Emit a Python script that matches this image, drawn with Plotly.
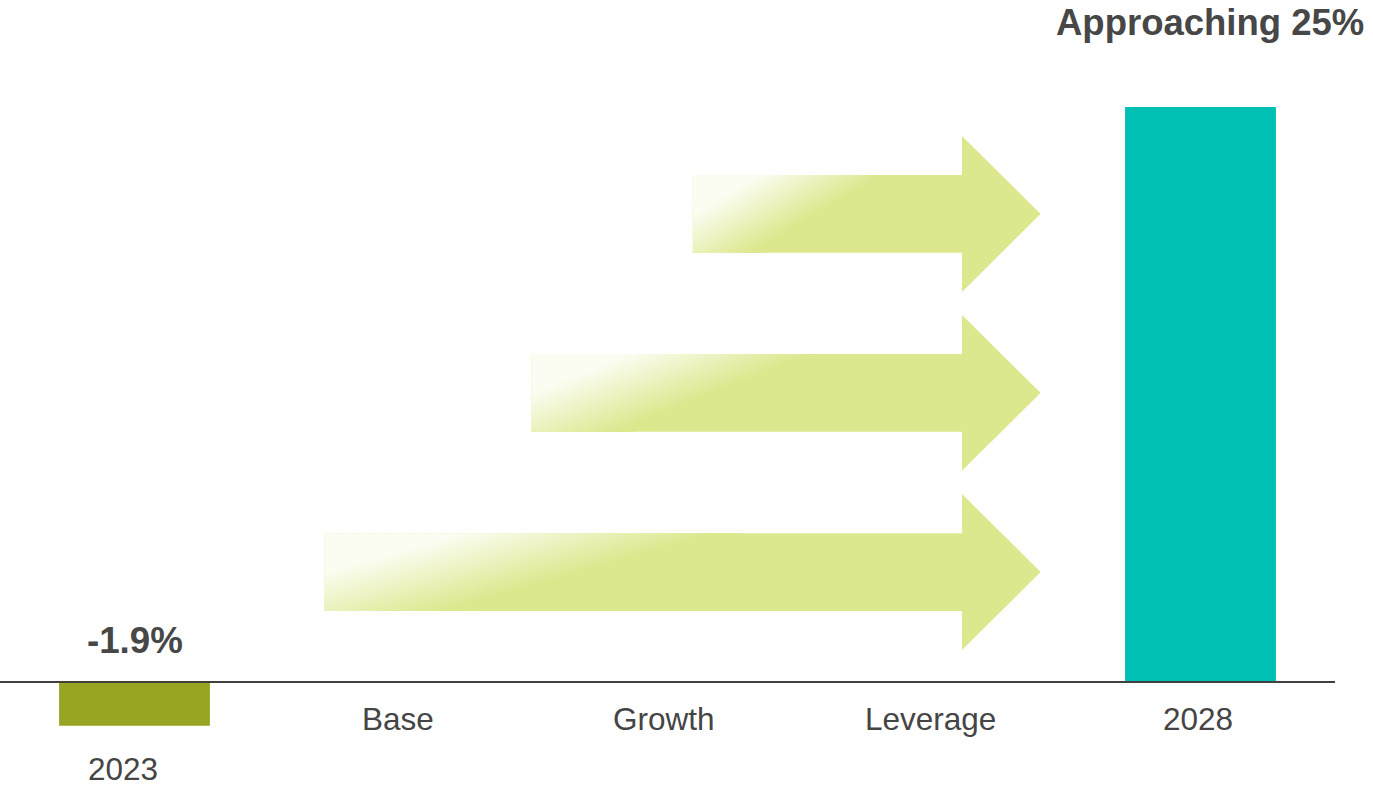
import plotly.graph_objects as go

# ---- data ----
categories = ["2023", "Base", "Growth", "Leverage", "2028"]
bar_values = [-1.9, 25]             # 2023 and 2028 values (%)
bar_labels = ["-1.9%", "Approaching 25%"]
bar_index = [0, 4]
bar_colors = ["#97A523", "#00BFB3"]

arrow_names = ["Base", "Growth", "Leverage"]
arrow_start = [0.713, 1.490, 2.095]   # left end of each arrow (category units)
arrow_mid_y = [4.78, 12.57, 20.35]     # vertical centre of each arrow (% units)
arrow_head_base = 3.105
arrow_tip = 3.40
body_half = 1.69
head_half = 3.39

label_offsets = [-0.043, -0.013, -0.013, -0.013, -0.01]

FONT = "Liberation Sans, Arial, Helvetica, sans-serif"
TXT = "#454545"
GREEN = (221, 231, 141)
WHITE = (251, 253, 242)

fig = go.Figure()

fig.add_trace(go.Bar(
    x=bar_index, y=bar_values, width=0.566,
    marker=dict(color=bar_colors, line=dict(width=0)),
    hoverinfo="skip", showlegend=False,
))

shapes = []

def col(s):
    t = (s - 0.19) / 0.36
    t = max(0.0, min(1.0, t))
    r = [round(WHITE[i] + (GREEN[i] - WHITE[i]) * t) for i in range(3)]
    return "rgb(%d,%d,%d)" % tuple(r)

def clip_u(poly):
    out = []
    n = len(poly)
    for i in range(n):
        a = poly[i]
        b = poly[(i + 1) % n]
        ina = a[0] >= 0
        inb = b[0] >= 0
        if ina:
            out.append(a)
        if ina != inb:
            f = (0 - a[0]) / (b[0] - a[0])
            out.append((0.0, a[1] + f * (b[1] - a[1])))
    return out

SLOPE = 0.38
NSTRIP = 80
SMAX = 0.58

for x0, yc in zip(arrow_start, arrow_mid_y):
    # solid arrow
    pts = [(x0, yc + body_half), (arrow_head_base, yc + body_half),
           (arrow_head_base, yc + head_half), (arrow_tip, yc),
           (arrow_head_base, yc - head_half), (arrow_head_base, yc - body_half),
           (x0, yc - body_half)]
    path = "M " + " L ".join("%f,%f" % p for p in pts) + " Z"
    shapes.append(dict(type="path", path=path, xref="x", yref="y",
                       fillcolor="rgb(%d,%d,%d)" % GREEN, line=dict(width=0), layer="above"))
    # gradient strips
    W = arrow_tip - x0
    ytop = yc + body_half
    H = 2 * body_half
    ds = SMAX / NSTRIP
    for k in range(NSTRIP):
        sa = k * ds
        sb = sa + ds * 1.6
        quad = [(sa, 0.0), (sb, 0.0), (sb - SLOPE, 1.0), (sa - SLOPE, 1.0)]
        poly = clip_u(quad)
        if len(poly) < 3:
            continue
        dpts = [(x0 + u * W, ytop - v * H) for u, v in poly]
        p = "M " + " L ".join("%f,%f" % q for q in dpts) + " Z"
        shapes.append(dict(type="path", path=p, xref="x", yref="y",
                           fillcolor=col(sa + ds * 0.5), line=dict(width=0), layer="above"))

# zero line
shapes.append(dict(type="line", xref="paper", yref="y", x0=0, x1=1, y0=0, y1=0,
                   line=dict(color="#404040", width=2), layer="above"))

annotations = []
# category labels
for i, c in enumerate(categories):
    y = -3.78 if i == 0 else -1.61
    annotations.append(dict(x=i + label_offsets[i], y=y, xref="x", yref="y",
                            text=c, showarrow=False, xanchor="center", yanchor="middle",
                            font=dict(family=FONT, size=31.5, color=TXT)))
# value labels
annotations.append(dict(x=bar_index[0], y=1.8, xref="x", yref="y", text="<b>%s</b>" % bar_labels[0],
                        showarrow=False, xanchor="center", yanchor="middle",
                        font=dict(family=FONT, size=36.7, color="#474747")))
annotations.append(dict(x=bar_index[1] + 0.035, y=1, xref="x", yref="paper",
                        text="<b>%s</b>" % bar_labels[1],
                        showarrow=False, xanchor="center", yanchor="top",
                        font=dict(family=FONT, size=36.5, color="#474747")))

fig.update_layout(
    width=1373, height=788,
    margin=dict(l=0, r=38, t=0, b=0),
    paper_bgcolor="white", plot_bgcolor="white",
    xaxis=dict(range=[-0.5047, 4.5047], visible=False, fixedrange=True),
    yaxis=dict(range=[-4.61, 29.65], visible=False, fixedrange=True),
    shapes=shapes, annotations=annotations,
    showlegend=False,
)

fig.write_html("out.html", config={"displayModeBar": False},
               post_script="document.body.style.margin='0';document.body.style.overflow='hidden';")
